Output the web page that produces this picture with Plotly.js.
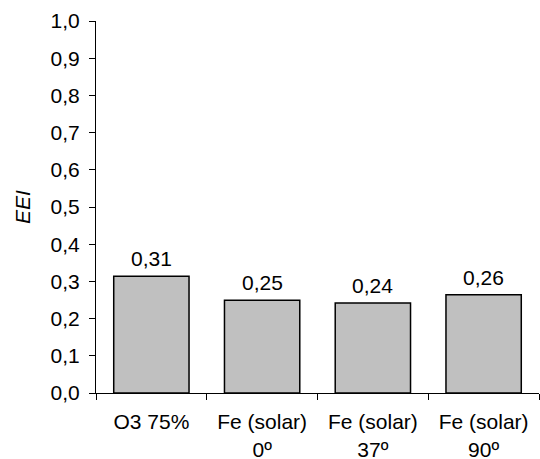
<!DOCTYPE html>
<html>
<head>
<meta charset="utf-8">
<script src="https://cdn.plot.ly/plotly-3.0.1.min.js"></script>
<style>html,body{margin:0;padding:0;background:#fff;}#chart{width:540px;height:459px;}</style>
</head>
<body>
<div id="chart"></div>
<script>
const categories = ["O3 75%", "Fe (solar)<br>0º", "Fe (solar)<br>37º", "Fe (solar)<br>90º"];
const values = [0.314, 0.249, 0.242, 0.264];
const valueLabels = ["0,31", "0,25", "0,24", "0,26"];
const yTickVals = [0, 0.1, 0.2, 0.3, 0.4, 0.5, 0.6, 0.7, 0.8, 0.9, 1.0];
const yTickText = ["0,0", "0,1", "0,2", "0,3", "0,4", "0,5", "0,6", "0,7", "0,8", "0,9", "1,0"];

const FONT = "Liberation Sans, Arial, sans-serif";
const FS = 21;

const trace = {
  type: "bar",
  x: categories,
  y: values,
  marker: { color: "#c0c0c0", line: { color: "#000", width: 1.5 } },
  hoverinfo: "none"
};

const annotations = categories.map((c, i) => ({
  x: c, y: values[i], xref: "x", yref: "y",
  text: valueLabels[i], showarrow: false,
  yanchor: "bottom", yshift: 4,
  font: { family: FONT, size: FS, color: "#000000" }
}));

const layout = {
  width: 540, height: 459,
  margin: { l: 96, r: 1, t: 21, b: 66 },
  paper_bgcolor: "#fff", plot_bgcolor: "#fff",
  showlegend: false,
  bargap: 0.32,
  font: { family: FONT, size: FS, color: "#000000" },
  xaxis: {
    type: "category",
    showline: true, linecolor: "#000", linewidth: 1,
    ticks: "outside", tickson: "boundaries", ticklen: 6, tickcolor: "#000",
    ticklabelstandoff: 10,
    showgrid: false, zeroline: false, fixedrange: true, automargin: false,
    tickfont: { family: FONT, size: FS, color: "#000000" }
  },
  yaxis: {
    range: [0, 1.0],
    tickvals: yTickVals, ticktext: yTickText,
    showline: true, linecolor: "#000", linewidth: 1,
    ticks: "outside", ticklen: 6, tickcolor: "#000",
    ticklabelstandoff: 5,
    showgrid: false, zeroline: false, fixedrange: true, automargin: false,
    tickfont: { family: FONT, size: FS, color: "#000000" },
    title: { text: "<i>EEI</i>", font: { family: FONT, size: FS, color: "#000000" }, standoff: 14 }
  },
  annotations: annotations
};

Plotly.newPlot("chart", [trace], layout, { displayModeBar: false, staticPlot: true });
</script>
</body>
</html>
